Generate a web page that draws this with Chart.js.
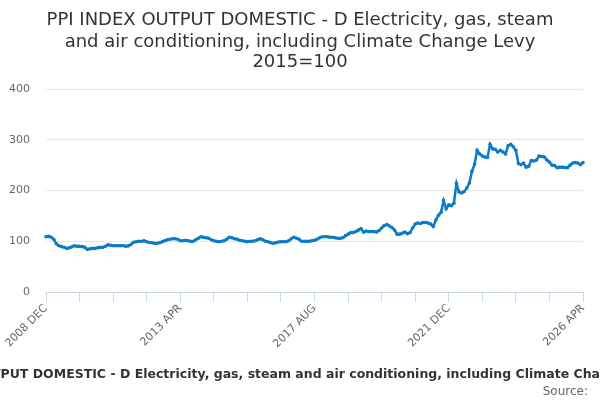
<!DOCTYPE html>
<html>
<head>
<meta charset="utf-8">
<script src="https://cdn.jsdelivr.net/npm/chart.js@4/dist/chart.umd.min.js"></script>
<style>
  html, body { margin: 0; padding: 0; background: #ffffff; }
  #wrap { width: 600px; height: 400px; position: relative; }
</style>
</head>
<body>
<div id="wrap"><canvas id="c" width="600" height="400"></canvas></div>
<script>
// ---- data ----
const titleLines = [
  'PPI INDEX OUTPUT DOMESTIC - D Electricity, gas, steam',
  'and air conditioning, including Climate Change Levy',
  '2015=100'
];
const xAxisTitle = 'PPI INDEX OUTPUT DOMESTIC - D Electricity, gas, steam and air conditioning, including Climate Change Levy';
const xAxisTitleHiddenPart = 'PPI INDEX OUT';
const sourceText = 'Source:';
const startYear = 2008;
const startMonth = 11; // DEC (0-based)
const monthNames = ['JAN','FEB','MAR','APR','MAY','JUN','JUL','AUG','SEP','OCT','NOV','DEC'];
const tickLabels = ['2008 DEC', '2013 APR', '2017 AUG', '2021 DEC', '2026 APR'];
const yTicks = [0, 100, 200, 300, 400];

// monthly index values, Dec 2008 .. Apr 2026
const values = [
  109,110,108,104,95,91,89.5,88,86,87,89,91,90,90,89.5,88,84,85,86,86,
  87,88,88,90,93,92,91,91,91,91,91,90,91,94,98,99,100,100,101,99,
  97.5,97,96,96,97,99,101,103,104,105,105,104,101,101,102,101,100,100,103,106,
  109,108,107,106,103,101,100,99,100,101,104,108,107,105,104,102,101,100,99,100,
  100,101,103,105,103,100,99,97,96,97,98.5,99,99,99,101,105,108,106,104,100,
  100,100,100,101,102,104,107,109,109,109,108,108,107,106,106,107,111,114,117,117,
  119,122,125,118,120,119,119,119,118,121,126,131,133,130,127,122,114,114,116,118,
  115,117,126,134,136,135,137,137,136,134,129,142,151,157,180,164,172,170,175,214,
  197,195,198,205,215,238,252,279,272,268,266,265,291,282,281,276,279,276,272,288,
  291,286,279,253,251,254,246,248,259,258,260,268,267,266,260,256,250,249,245,246,
  246,245,245,250,254,255,254,251,255
];

const categories = [];
for (let i = 0; i < values.length; i++) {
  const m = (startMonth + i) % 12;
  const y = startYear + Math.floor((startMonth + i) / 12);
  categories.push(y + ' ' + monthNames[m]);
}

const lineColor = '#0a7bc6';
const font = "'DejaVu Sans', sans-serif";

const textPlugin = {
  id: 'texts',
  afterDraw(chart) {
    const ctx = chart.ctx;
    ctx.save();
    ctx.textAlign = 'center';
    ctx.textBaseline = 'alphabetic';
    ctx.fillStyle = '#333333';
    ctx.font = '18px ' + font;
    const base = [25, 46.5, 67];
    titleLines.forEach((t, i) => ctx.fillText(t, 300, base[i]));
    ctx.font = 'bold 12.5px ' + font;
    ctx.textAlign = 'left';
    const hidden = ctx.measureText(xAxisTitleHiddenPart).width;
    ctx.fillText(xAxisTitle, 0.5 - hidden, 377.5);
    ctx.textAlign = 'right';
    ctx.font = '12px ' + font;
    ctx.fillStyle = '#666666';
    ctx.fillText(sourceText, 588, 395);
    ctx.restore();
  }
};

new Chart(document.getElementById('c'), {
  type: 'line',
  data: {
    labels: categories,
    datasets: [{
      data: values,
      borderColor: lineColor,
      backgroundColor: lineColor,
      borderWidth: 2.5,
      pointRadius: 1.8,
      pointHoverRadius: 2,
      pointBorderWidth: 0,
      tension: 0,
      fill: false
    }]
  },
  options: {
    responsive: false,
    animation: false,
    devicePixelRatio: 1,
    layout: { padding: { top: 89, right: 17, bottom: 0, left: 0 } },
    plugins: {
      legend: { display: false },
      title: { display: false },
      tooltip: { enabled: false }
    },
    scales: {
      x: {
        type: 'category',
        offset: false,
        afterFit(scale) { scale.height = 108; },
        grid: {
          display: true,
          drawOnChartArea: false,
          drawTicks: true,
          tickLength: 10,
          tickWidth: 1,
          tickColor: (c) => (c.index % 13 === 0 ? '#ccd6eb' : 'rgba(0,0,0,0)')
        },
        border: { display: true, color: '#ccd6eb', width: 1 },
        ticks: {
          autoSkip: false,
          maxRotation: 45,
          minRotation: 45,
          padding: 0,
          color: '#666666',
          font: { family: font, size: 11 },
          callback: function (v, i) {
            const lab = categories[i];
            return tickLabels.includes(lab) ? lab : '';
          }
        }
      },
      y: {
        min: 0,
        max: 400,
        afterFit(scale) { scale.width = 46; },
        afterBuildTicks(scale) { scale.ticks = yTicks.map(v => ({ value: v })); },
        grid: { color: '#e6e6e6', lineWidth: 1, drawTicks: false },
        border: { display: false },
        ticks: {
          padding: 16,
          color: '#666666',
          font: { family: font, size: 11 }
        }
      }
    }
  },
  plugins: [textPlugin]
});
</script>
</body>
</html>
